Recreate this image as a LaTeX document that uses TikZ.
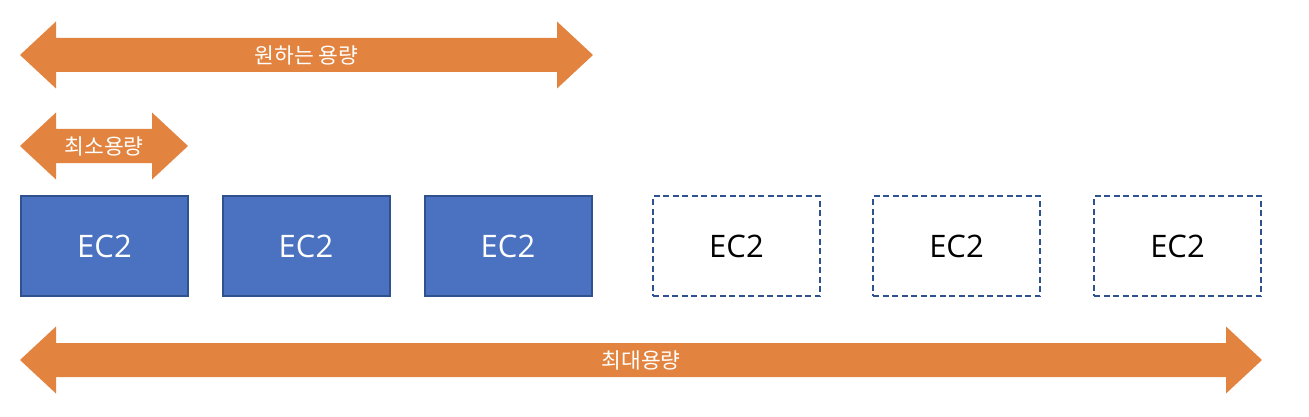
\documentclass[tikz,border=0pt]{standalone}
\usepackage{fontspec}
\setmainfont{Open Sans}
\newfontfamily\kr{Noto Sans CJK KR}
\definecolor{caporange}{HTML}{E2843F}
\definecolor{ecfill}{HTML}{4A72C0}
\definecolor{ecline}{HTML}{2F528F}
\tikzset{
  capfill/.style={fill=caporange},
  caplabel/.style={text=white,font=\kr\fontsize{21.5}{24}\selectfont,inner sep=0pt},
  ecbox/.style={minimum width=167pt,minimum height=100pt,inner sep=0pt,line width=2pt,
                font=\fontsize{31}{34}\selectfont},
  running/.style={ecbox,draw=ecline,fill=ecfill,text=white},
  spare/.style={ecbox,draw=ecline,dash pattern=on 6pt off 3.5pt,text=black}
}
% name, left, right, centre y, label
\newcommand{\caparrow}[5]{%
  \fill[capfill] (#2,#4) -- (#2+36,#4-33.5) -- (#2+36,#4-17) -- (#3-36,#4-17)
    -- (#3-36,#4-33.5) -- (#3,#4) -- (#3-36,#4+33.5) -- (#3-36,#4+17)
    -- (#2+36,#4+17) -- (#2+36,#4+33.5) -- cycle;
  \node[caplabel] (#1) at ({(#2+#3)/2},#4) {#5};}
\begin{document}
\begin{tikzpicture}[x=1pt,y=-1pt]
\useasboundingbox (0,0) rectangle (1309,417);
% capacity arrows
\caparrow{desired}{20}{593}{55}{원하는 용량}
\caparrow{minimum}{20}{188}{146}{최소용량}
\caparrow{maximum}{20}{1262}{360}{최대용량}
% instances
\foreach \x [count=\i] in {104.5,306,508}
  \node[running] (ec\i) at (\x,246) {EC2};
\foreach \x [count=\i from 4] in {736.5,956.5,1177.5}
  \node[spare] (ec\i) at (\x,246) {EC2};
\end{tikzpicture}
\end{document}
